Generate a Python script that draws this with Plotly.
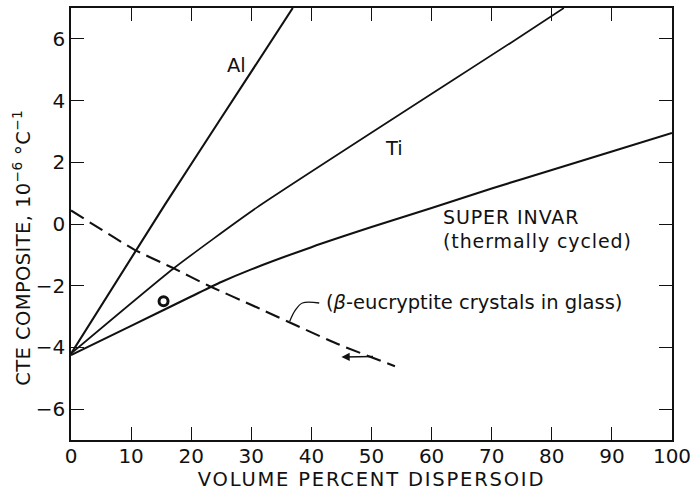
import plotly.graph_objects as go

# ---- data ----
al_x = [0, 15.6, 24.6, 36.9]
al_y = [-4.2, 0.62, 3.32, 7.0]
ti_x = [0, 17, 30.9, 73.4, 82]
ti_y = [-4.2, -1.45, 0.53, 5.9, 7.0]
invar_x = [0, 10, 20, 25, 30, 40, 50, 60, 70, 80, 90, 100]
invar_y = [-4.25, -3.3, -2.35, -1.88, -1.47, -0.75, -0.1, 0.52, 1.15, 1.75, 2.35, 2.95]
eucry_x = [0, 10.45, 16.9, 22.9, 30.9, 43.9, 53.9]
eucry_y = [0.44, -0.82, -1.42, -2.0, -2.7, -3.85, -4.61]
point_x = [15.4]
point_y = [-2.5]

x_ticks = [0, 10, 20, 30, 40, 50, 60, 70, 80, 90, 100]
y_ticks = [-6, -4, -2, 0, 2, 4, 6]

# leader line for the eucryptite label (data units)
leader_x = [36.4, 37.3, 38.5, 41.3]
leader_y = [-3.15, -2.8, -2.56, -2.56]

FONT = "DejaVu Sans, Liberation Sans, Arial, sans-serif"
BLACK = "#111111"
FS = 19.5


def spaced(text, px):
    return '<span style="letter-spacing:%spx">%s</span>' % (px, text)


fig = go.Figure()
fig.add_trace(go.Scatter(x=al_x, y=al_y, mode="lines",
                         line=dict(color=BLACK, width=2.1, shape="spline", smoothing=0.5)))
fig.add_trace(go.Scatter(x=ti_x, y=ti_y, mode="lines",
                         line=dict(color=BLACK, width=1.7, shape="spline", smoothing=0.5)))
fig.add_trace(go.Scatter(x=invar_x, y=invar_y, mode="lines",
                         line=dict(color=BLACK, width=2.1, shape="spline", smoothing=0.6)))
fig.add_trace(go.Scatter(x=eucry_x, y=eucry_y, mode="lines",
                         line=dict(color=BLACK, width=2.1, dash="15px,7px",
                                   shape="spline", smoothing=0.6)))
fig.add_trace(go.Scatter(x=point_x, y=point_y, mode="markers",
                         marker=dict(symbol="circle-open", size=9, color=BLACK,
                                     line=dict(width=3, color=BLACK))))
fig.add_trace(go.Scatter(x=leader_x, y=leader_y, mode="lines",
                         line=dict(color=BLACK, width=1.3, shape="spline")))

ann_font = dict(family=FONT, size=FS, color=BLACK)
fig.add_annotation(x=27.6, y=5.15, text="Al", showarrow=False, font=ann_font)
fig.add_annotation(x=53.8, y=2.45, text="Ti", showarrow=False, font=ann_font)
fig.add_annotation(x=61.6, y=0.22, text=spaced("SUPER INVAR", 0.9), showarrow=False,
                   xanchor="left", font=dict(family=FONT, size=19, color=BLACK))
fig.add_annotation(x=61.6, y=-0.55, text=spaced("(thermally cycled)", 0.9), showarrow=False,
                   xanchor="left", font=dict(family=FONT, size=19, color=BLACK))
fig.add_annotation(x=42.1, y=-2.55, text="(<i>β</i>-eucryptite crystals in glass)",
                   showarrow=False, xanchor="left", font=ann_font)
fig.add_annotation(x=45.0, y=-4.31, ax=50.5, ay=-4.29, axref="x", ayref="y",
                   xref="x", yref="y", text="", showarrow=True,
                   arrowhead=2, arrowsize=1.1, arrowwidth=1.5, arrowcolor=BLACK)

# y axis title placed as a rotated annotation
fig.add_annotation(xref="paper", yref="paper", x=0, y=0.445, xshift=-49,
                   text=spaced("CTE COMPOSITE, 10<sup>−6</sup> °C<sup>−1</sup>", 0.4),
                   textangle=-90, showarrow=False, xanchor="center", yanchor="middle",
                   font=dict(family=FONT, size=FS, color=BLACK))

axis_common = dict(
    showline=True, linecolor=BLACK, linewidth=1.5, mirror="ticks",
    ticks="inside", ticklen=13, tickwidth=1.3, tickcolor=BLACK,
    showgrid=False, zeroline=False,
    tickfont=dict(family=FONT, size=20, color=BLACK),
)

fig.update_xaxes(range=[0, 100], tickvals=x_ticks, ticklabeloverflow="allow",
                 ticklabelstandoff=-3, **axis_common,
                 title=dict(text=spaced("VOLUME PERCENT DISPERSOID", 1.8),
                            font=dict(family=FONT, size=FS, color=BLACK), standoff=5))
fig.update_yaxes(range=[-7, 7], tickvals=y_ticks, **axis_common)

fig.update_layout(
    width=697, height=496,
    margin=dict(l=71, r=14, t=6, b=56),
    paper_bgcolor="white", plot_bgcolor="white",
    showlegend=False,
)

fig.write_html("out.html")
